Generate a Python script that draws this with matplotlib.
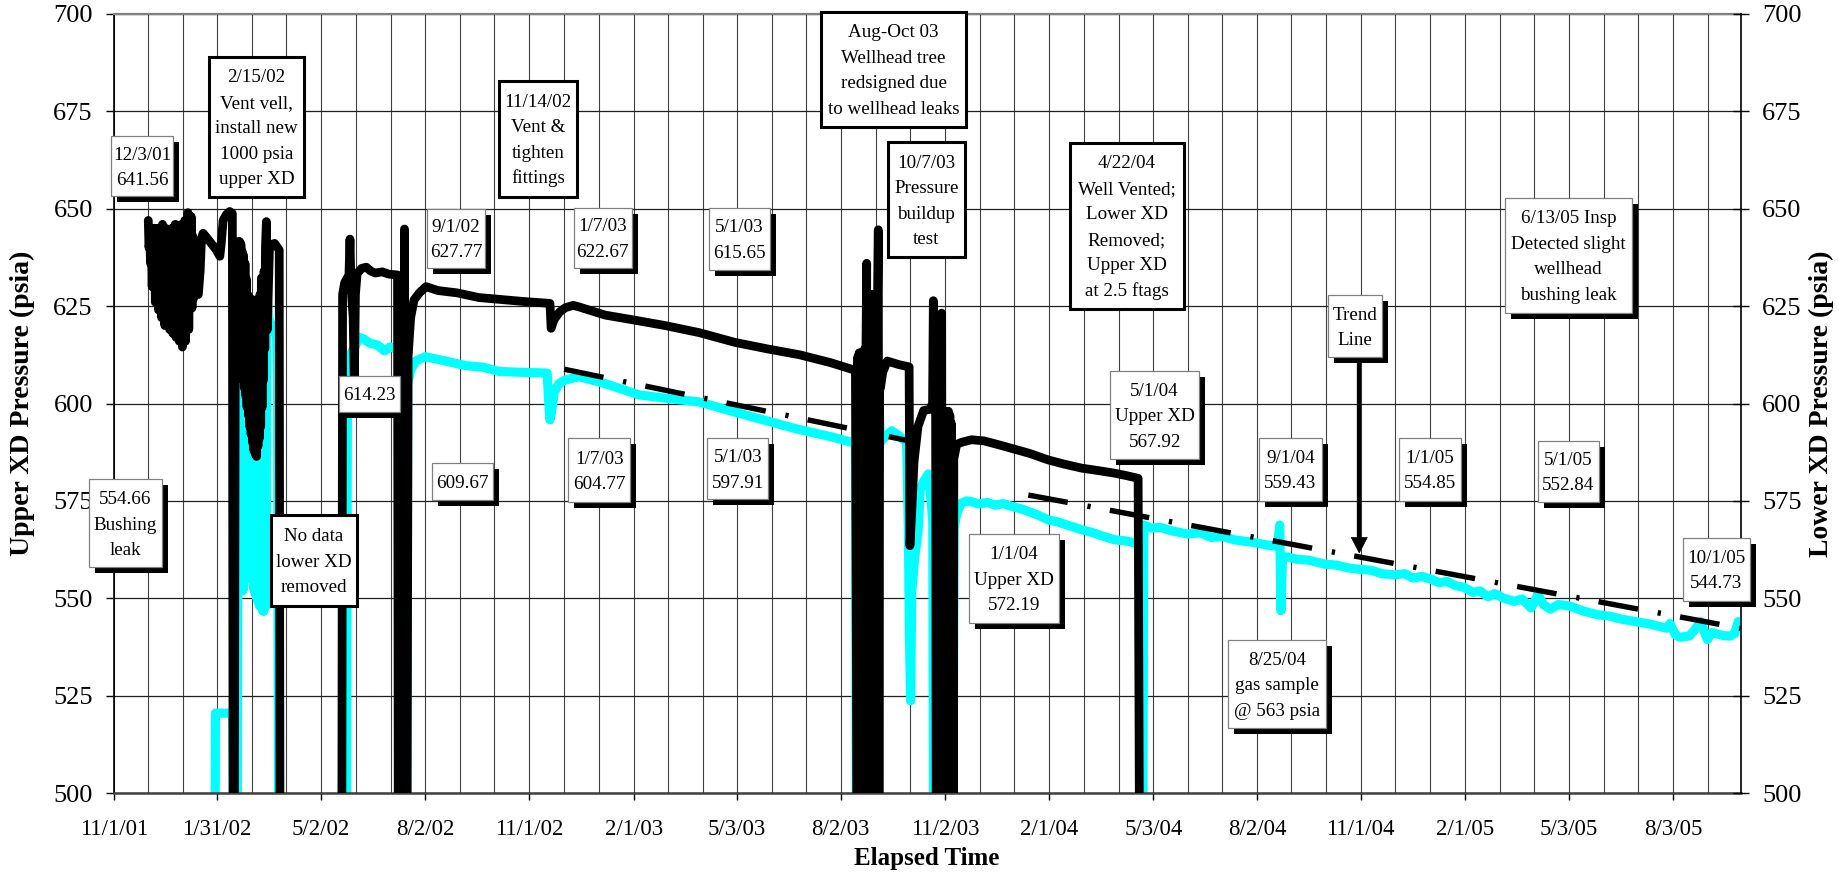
import datetime as dt
import numpy as np
import matplotlib
matplotlib.use("Agg")
import matplotlib.pyplot as plt
import matplotlib.dates as mdates
from matplotlib.patches import Rectangle, Polygon
from matplotlib.lines import Line2D
from matplotlib.transforms import Affine2D

plt.rcParams['font.family'] = ['Liberation Serif', 'DejaVu Serif']

W, H = 1839, 874
START = dt.datetime(2001, 11, 1)
X_SPAN_DAYS = 1430.2

# ---------------- data ----------------
tick_labels = ['11/1/01', '1/31/02', '5/2/02', '8/2/02', '11/1/02', '2/1/03', '5/3/03',
               '8/2/03', '11/2/03', '2/1/04', '5/3/04', '8/2/04', '11/1/04', '2/1/05',
               '5/3/05', '8/3/05']
y_ticks = [500, 525, 550, 575, 600, 625, 650, 675, 700]

# Upper XD (black): (days since 11/1/01, psia); 480 = off-scale reading below 500
upper_points = [
    (30.4, 647), (31.0, 640), (31.7, 642), (32.4, 636), (33.1, 641), (33.8, 630), (34.5, 640),
    (35.2, 633), (35.9, 645), (36.6, 626), (37.3, 638), (38.0, 629), (38.7, 645), (39.4, 624),
    (40.1, 637), (40.8, 627), (41.5, 643), (42.2, 622), (42.9, 646), (43.6, 628), (44.3, 640),
    (45.0, 620), (45.7, 645), (46.4, 626), (47.1, 636), (47.8, 621), (48.5, 644), (49.2, 619),
    (49.9, 639), (50.6, 624), (51.3, 645), (52.0, 618), (52.7, 641), (53.4, 623), (54.1, 646),
    (54.8, 617), (55.5, 637), (56.2, 625), (56.9, 645), (57.6, 616), (58.3, 640), (59.0, 621),
    (59.7, 646), (60.4, 614.5), (61.1, 638), (61.8, 619), (62.5, 647), (63.2, 616), (63.9, 643),
    (64.6, 622), (65.3, 649), (66.0, 619), (66.7, 645), (67.4, 626), (68.1, 648), (68.8, 624.5),
    (69.5, 643), (70.2, 627), (72.0, 629), (74.4, 628), (76.0, 634), (77.2, 642.5), (78.6, 643.7),
    (82.0, 642.5), (86.0, 641), (90.0, 639.5), (93.3, 637.8), (94.5, 641), (96.2, 647),
    (99.0, 648.5), (102.0, 649.3), (104.3, 648.8), (105.0, 480), (106.0, 480),
    (107.0, 641), (107.6, 630), (108.2, 641), (108.8, 622), (109.4, 641.5), (110.0, 617),
    (110.6, 641.6), (111.2, 613), (111.8, 641), (112.4, 610), (113.0, 639), (113.6, 606),
    (114.2, 638), (114.8, 604), (115.4, 636), (116.0, 602), (116.6, 632), (117.2, 599),
    (117.8, 628), (118.4, 597), (119.0, 627.4), (119.6, 594), (120.2, 626.8), (120.8, 592),
    (121.4, 626.6), (122.0, 590), (122.6, 626.6), (123.2, 588), (123.8, 626.5), (124.4, 587),
    (125.0, 626.5), (125.6, 586.4), (126.2, 626.5), (126.8, 589), (127.4, 626.6), (128.0, 591),
    (128.6, 628), (129.2, 594), (129.8, 632.2), (130.4, 599), (131.0, 630), (131.6, 606),
    (132.2, 634), (132.8, 614), (133.4, 640), (134.2, 646.7), (135.0, 618.9), (137.0, 640.7),
    (141.5, 641.1), (145.5, 639.4), (146.2, 480),
    (200.5, 480), (201.2, 628), (203.0, 631), (206.8, 633), (207.7, 642.2), (208.6, 630),
    (210.5, 622), (211.5, 605), (212.5, 628), (214.0, 633.4), (218.0, 634.7), (222.0, 635),
    (226.0, 634), (230.0, 633.5), (236.0, 633.8), (242.0, 633.2), (249.5, 633), (250.2, 480),
    (254.8, 480), (255.6, 644.8), (256.4, 480), (257.8, 480), (258.8, 612), (261.0, 622),
    (264.0, 626.6), (269.0, 628.5), (274.6, 630), (285.0, 629), (302.0, 628.4), (321.0, 627.2),
    (340.0, 626.7), (360.0, 626.2), (383.5, 625.7), (384.5, 619.3), (387.0, 621.5),
    (392.0, 623.5), (397.0, 624.6), (404.0, 625.2), (409.0, 624.8), (432.0, 622.7),
    (456.0, 621.5), (485.0, 620), (514.6, 618.2), (546.0, 615.7), (575.0, 614), (603.0, 612.5),
    (630.0, 610.5), (652.0, 608.5),
    (653.5, 480), (654.1, 612), (654.7, 480), (655.3, 613), (655.9, 480), (656.5, 613),
    (657.1, 480), (657.7, 613), (658.3, 480), (658.9, 613), (659.5, 480), (660.1, 614),
    (660.7, 480), (661.3, 615), (661.9, 636), (662.5, 480), (663.1, 614), (663.7, 480),
    (664.3, 616), (664.9, 480), (665.5, 620), (666.1, 480), (666.7, 628), (667.3, 480),
    (667.9, 628), (668.5, 480), (669.1, 628), (669.7, 480), (670.3, 628), (670.9, 480),
    (671.5, 628), (672.1, 644.6), (672.7, 480), (673.3, 604), (674.0, 604), (676.0, 608),
    (680.0, 610.9), (690.0, 610), (699.2, 609.4), (699.9, 563.5), (701.5, 572), (703.5, 585),
    (707.0, 594.1), (712.0, 598.2), (717.5, 598.5), (719.8, 600), (720.5, 626.4), (721.2, 600),
    (722.5, 598), (723.1, 480), (723.7, 598), (724.3, 480), (724.9, 598), (725.5, 480),
    (726.1, 598), (726.7, 480), (727.3, 600), (727.8, 623.2), (728.4, 480), (729.0, 598),
    (729.6, 480), (730.2, 598), (730.8, 480), (731.4, 598), (732.0, 480), (732.6, 598),
    (733.2, 480), (733.8, 598), (734.4, 480), (735.0, 597), (735.6, 480), (736.2, 595),
    (736.8, 480), (737.4, 590), (738.0, 480), (738.5, 585.8), (741.0, 589.5), (745.0, 590),
    (754.0, 590.7), (765.0, 590.4), (778.0, 589.4), (789.0, 588.5), (805.0, 587.2),
    (821.6, 585.5), (836.0, 584.4), (851.0, 583.4), (865.0, 582.8), (880.0, 582.1),
    (890.0, 581.5), (900.5, 580.8), (901.8, 480),
]

# Lower XD (cyan)
lower_points = [
    (89.0, 480), (89.5, 520.5), (104.5, 520.5), (105.5, 480), (108.5, 480),
    (109.5, 613), (110.2, 560), (110.8, 612), (111.4, 556), (112.0, 610), (112.6, 553),
    (113.2, 606), (113.8, 552), (114.4, 600), (115.0, 555), (115.6, 598), (116.2, 558),
    (116.8, 596), (117.4, 560), (118.0, 594), (118.6, 560), (119.2, 592), (119.8, 558),
    (120.4, 590), (121.0, 556), (121.6, 588), (122.2, 554), (122.8, 587), (123.4, 552),
    (124.0, 586), (124.6, 551), (125.2, 586), (125.8, 550), (126.4, 588), (127.0, 549),
    (127.6, 590), (128.2, 548), (128.8, 592), (129.4, 548), (130.0, 596), (130.6, 547),
    (131.2, 600), (131.8, 546.6), (132.4, 605), (133.0, 550), (133.6, 600), (134.0, 548),
    (134.6, 629), (136.0, 622), (138.0, 620.5), (140.0, 619), (142.0, 618), (143.0, 620),
    (144.0, 605), (145.0, 480),
    (204.5, 480), (205.5, 610), (208.0, 612.5), (212.0, 614.5), (216.0, 617), (220.0, 616.5),
    (225.0, 615.5), (232.0, 615), (238.0, 613.5), (243.0, 614.5), (248.0, 614), (252.0, 613),
    (254.3, 480),
    (257.5, 480), (258.5, 605), (261.0, 608.6), (266.0, 611), (274.0, 612), (290.0, 611),
    (310.0, 609.7), (325.0, 609.3), (339.0, 608.2), (360.0, 608), (381.0, 607.8),
    (382.5, 600), (383.5, 595.8), (385.0, 598), (387.0, 602.6), (391.0, 605), (396.6, 606),
    (409.0, 606.9), (431.0, 605.2), (461.8, 602.2), (490.0, 601.2), (514.6, 600.4),
    (549.5, 597.5), (600.0, 593.5), (630.0, 591.5), (652.0, 589.8), (653.0, 480),
    (670.5, 480), (672.5, 602.3), (674.0, 590), (678.0, 591.5), (684.0, 593), (690.0, 591.8),
    (697.0, 590), (698.5, 568.6), (699.5, 540), (700.5, 523.7), (701.5, 551.6), (704.0, 560),
    (707.3, 568), (709.0, 578), (712.0, 580), (716.0, 581.9), (718.5, 575), (720.0, 569.6),
    (720.8, 480),
    (737.5, 480), (738.8, 568), (741.0, 571.7), (745.0, 574.4), (750.0, 575), (754.0, 574.8),
    (760.0, 574.2), (768.0, 574.6), (775.0, 573.9), (782.0, 574.3), (789.0, 573.6),
    (797.0, 573), (805.0, 572.2), (813.0, 571.3), (821.6, 570.1), (830.0, 569.6),
    (840.0, 568.6), (851.0, 567.6), (860.0, 566.9), (870.0, 565.9), (880.0, 565),
    (890.0, 564.7), (898.0, 564.2), (901.5, 563.5), (902.5, 480), (904.5, 480),
    (905.5, 568.8), (912.0, 568), (920.0, 568.2), (930.0, 567.3), (944.0, 566.5),
    (955.0, 566.8), (965.0, 565.6), (975.0, 565.9), (985.0, 565), (995.0, 564.6),
    (1005.0, 564.2), (1015.0, 563.6), (1023.0, 563.3), (1025.0, 568.8), (1026.0, 546.8),
    (1027.5, 560.6), (1032.0, 560.6), (1040.0, 560), (1050.0, 559.8), (1064.0, 558.8),
    (1075.0, 558.5), (1085.0, 557.8), (1096.0, 557.4), (1105.0, 557.2), (1115.0, 556.3),
    (1126.0, 556), (1135.0, 556.3), (1142.0, 555.2), (1150.0, 555.6), (1158.0, 554.9),
    (1165.0, 554), (1172.0, 554.3), (1180.0, 553.2), (1187.0, 552.8), (1195.0, 551.5),
    (1201.0, 551.9), (1208.0, 550.4), (1214.0, 551.2), (1222.0, 550), (1231.0, 549.2),
    (1238.0, 549.8), (1246.0, 547.5), (1252.0, 551), (1257.0, 548.3), (1263.0, 547.2),
    (1270.0, 548.4), (1280.0, 548), (1292.0, 546.7), (1304.0, 545.8), (1315.0, 545.4),
    (1326.0, 544.6), (1338.0, 544), (1350.0, 543.4), (1358.0, 542.8), (1365.0, 542.3),
    (1368.0, 543.5), (1373.0, 540.5), (1377.0, 540), (1385.0, 540.3), (1390.0, 542),
    (1395.0, 544), (1398.0, 541.5), (1401.0, 539.4), (1405.0, 541.2), (1410.0, 540.8),
    (1415.0, 540.4), (1421.0, 540.3), (1425.0, 541), (1428.0, 544),
]
upper_day = [p[0] for p in upper_points]
upper_psia = [p[1] for p in upper_points]
lower_day = [p[0] for p in lower_points]
lower_psia = [p[1] for p in lower_points]

# trend lines (dash-dot)
trend1_day = [396.0, 696.0]
trend1_psia = [608.8, 590.6]
trend2_day = [804.0, 1430.0]
trend2_psia = [576.5, 542.3]

# annotation boxes: (lines, [left, top, right, bottom] in px, style)
annotations = [
    (['12/3/01', '641.56'], [110.7, 136, 173.3, 196], 'shadow'),
    (['2/15/02', 'Vent vell,', 'install new', '1000 psia', 'upper XD'], [209.3, 56.7, 304, 197.3], 'thick'),
    (['554.66', 'Bushing', 'leak'], [88.7, 479.3, 162, 567.3], 'shadow'),
    (['No data', 'lower XD', 'removed'], [270.7, 515, 357.3, 606], 'thick'),
    (['614.23'], [339.3, 376, 400, 411.7], 'shadow'),
    (['9/1/02', '627.77'], [427.3, 209, 485, 267.7], 'shadow'),
    (['609.67'], [431.7, 463.3, 493.3, 500], 'shadow'),
    (['11/14/02', 'Vent &', 'tighten', 'fittings'], [498.6, 80.7, 577.1, 196.7], 'thick'),
    (['1/7/03', '622.67'], [573.6, 207.7, 631.8, 267.7], 'shadow'),
    (['1/7/03', '604.77'], [568.3, 438.3, 630, 501.7], 'shadow'),
    (['5/1/03', '615.65'], [708.6, 207.7, 770, 270], 'shadow'),
    (['5/1/03', '597.91'], [707.3, 437.7, 768.3, 499.3], 'shadow'),
    (['Aug-Oct 03', 'Wellhead tree', 'redsigned due', 'to wellhead leaks'], [821, 11.7, 966.4, 126.7], 'thick'),
    (['10/7/03', 'Pressure', 'buildup', 'test'], [888.2, 141.7, 964.6, 257.3], 'thick'),
    (['1/1/04', 'Upper XD', '572.19'], [969.3, 534.3, 1059, 622.7], 'shadow'),
    (['4/22/04', 'Well Vented;', 'Lower XD', 'Removed;', 'Upper XD', 'at 2.5 ftags'], [1070, 142.9, 1184, 309], 'thick'),
    (['5/1/04', 'Upper XD', '567.92'], [1110, 370.7, 1199.3, 459], 'shadow'),
    (['9/1/04', '559.43'], [1259.3, 437.9, 1321.7, 500.7], 'shadow'),
    (['8/25/04', 'gas sample', '@ 563 psia'], [1228, 640, 1325.7, 728.3], 'shadow'),
    (['Trend', 'Line'], [1328.3, 295.4, 1382.3, 357.1], 'shadow'),
    (['1/1/05', '554.85'], [1398.7, 437.9, 1460.7, 500.7], 'shadow'),
    (['5/1/05', '552.84'], [1537.7, 440.7, 1599.3, 501.8], 'shadow'),
    (['6/13/05 Insp', 'Detected slight', 'wellhead', 'bushing leak'], [1505, 197.5, 1631.7, 312.8], 'shadow'),
    (['10/1/05', '544.73'], [1682.7, 537.7, 1750, 600.5], 'shadow'),
]

# ---------------- figure ----------------
fig = plt.figure(figsize=(W / 100, H / 100), dpi=100)
PX = Affine2D().scale(1.0 / W, -1.0 / H).translate(0, 1) + fig.transFigure

L, R, T, B = 113.7, 1740.7, 14.0, 793.0
ax = fig.add_axes([L / W, 1 - B / H, (R - L) / W, (B - T) / H])

x0 = mdates.date2num(START)
ax.plot(x0 + np.array(lower_day), lower_psia, color='#00FFFF', lw=6.6,
        solid_joinstyle='round', solid_capstyle='round', zorder=2)
ax.plot(x0 + np.array(upper_day), upper_psia, color='black', lw=6.3,
        solid_joinstyle='round', solid_capstyle='round', zorder=3)
for td, tp in ((trend1_day, trend1_psia), (trend2_day, trend2_psia)):
    ax.plot(x0 + np.array(td), tp, color='black', lw=3.9,
            linestyle=(0, (7.4, 3.7, 0.6, 3.6)), zorder=4)

ax.set_xlim(x0, x0 + X_SPAN_DAYS)
ax.set_ylim(500, 700)

major = [mdates.date2num(dt.datetime.strptime(s, '%m/%d/%y')) for s in tick_labels]
minor = []
for a, b in zip(major[:-1], major[1:]):
    minor += [a + (b - a) / 3, a + 2 * (b - a) / 3]
step = (major[-1] - major[0]) / (len(major) - 1) / 3
minor += [major[-1] + step]
ax.set_xticks(major)
ax.set_xticklabels(tick_labels)
ax.set_xticks(minor, minor=True)
ax.set_yticks(y_ticks)
ax.set_yticklabels([str(v) for v in y_ticks])

ax.set_axisbelow(True)
ax.grid(True, axis='x', which='both', color='#404040', lw=0.8)
ax.grid(True, axis='y', which='major', color='#202020', lw=0.9)

ax.tick_params(axis='x', which='major', direction='out', length=5, width=1.0,
               pad=14, labelsize=16.5, colors='black')
ax.tick_params(axis='x', which='minor', length=0)
ax.tick_params(axis='y', which='major', direction='out', length=6, width=1.0,
               pad=9, labelsize=19)

ax.spines['left'].set_linewidth(1.2)
ax.spines['top'].set_color('#808080')
ax.spines['top'].set_linewidth(1.6)
ax.spines['bottom'].set_color('#404040')
ax.spines['bottom'].set_linewidth(1.8)
ax.spines['right'].set_visible(False)

ax2 = ax.twinx()
ax2.set_ylim(500, 700)
ax2.set_yticks(y_ticks)
ax2.set_yticklabels([str(v) for v in y_ticks])
ax2.tick_params(axis='y', direction='inout', length=12, width=1.0, pad=9.4, labelsize=19)
for s in ('top', 'bottom', 'left'):
    ax2.spines[s].set_visible(False)
ax2.spines['right'].set_linewidth(1.2)

# axis titles
fig.text(22.5, 403.5, 'Upper XD Pressure (psia)', transform=PX, rotation=90,
         ha='center', va='center', fontsize=20, fontweight='bold')
fig.text(1821.7, 403.5, 'Lower XD Pressure (psia)', transform=PX, rotation=90,
         ha='center', va='center', fontsize=20, fontweight='bold')
fig.text(927, 859, 'Elapsed Time', transform=PX, ha='center', va='center',
         fontsize=18, fontweight='bold')

# annotation boxes
FS = 13.7
EM = FS * 100 / 72
PITCH = 25.5
for lines, (l, t, r, b), style in annotations:
    if style == 'shadow':
        fig.add_artist(Rectangle((l + 6, t + 6), r - l, b - t, transform=PX,
                                 facecolor='black', edgecolor='none', zorder=5))
        fig.add_artist(Rectangle((l, t), r - l, b - t, transform=PX,
                                 facecolor='white', edgecolor='#808080', lw=0.9, zorder=6))
    else:
        fig.add_artist(Rectangle((l, t), r - l, b - t, transform=PX,
                                 facecolor='white', edgecolor='black', lw=2.2, zorder=6))
    cx, cy = (l + r) / 2, (t + b) / 2
    n = len(lines)
    for i, s in enumerate(lines):
        yc = cy + (i - (n - 1) / 2) * PITCH
        fig.text(cx, yc + 0.33 * EM, s, transform=PX, ha='center', va='baseline',
                 fontsize=FS, zorder=7)

# trend-line arrow
fig.add_artist(Line2D([1359.3, 1359.3], [363.6, 540], transform=PX, color='black',
                      lw=3.1, zorder=5))
fig.add_artist(Polygon([[1351.3, 537.5], [1367.3, 537.5], [1359.3, 552.9]], closed=True,
                       transform=PX, facecolor='black', edgecolor='black', lw=0.5, zorder=5))

fig.savefig('out.png', dpi=100)
